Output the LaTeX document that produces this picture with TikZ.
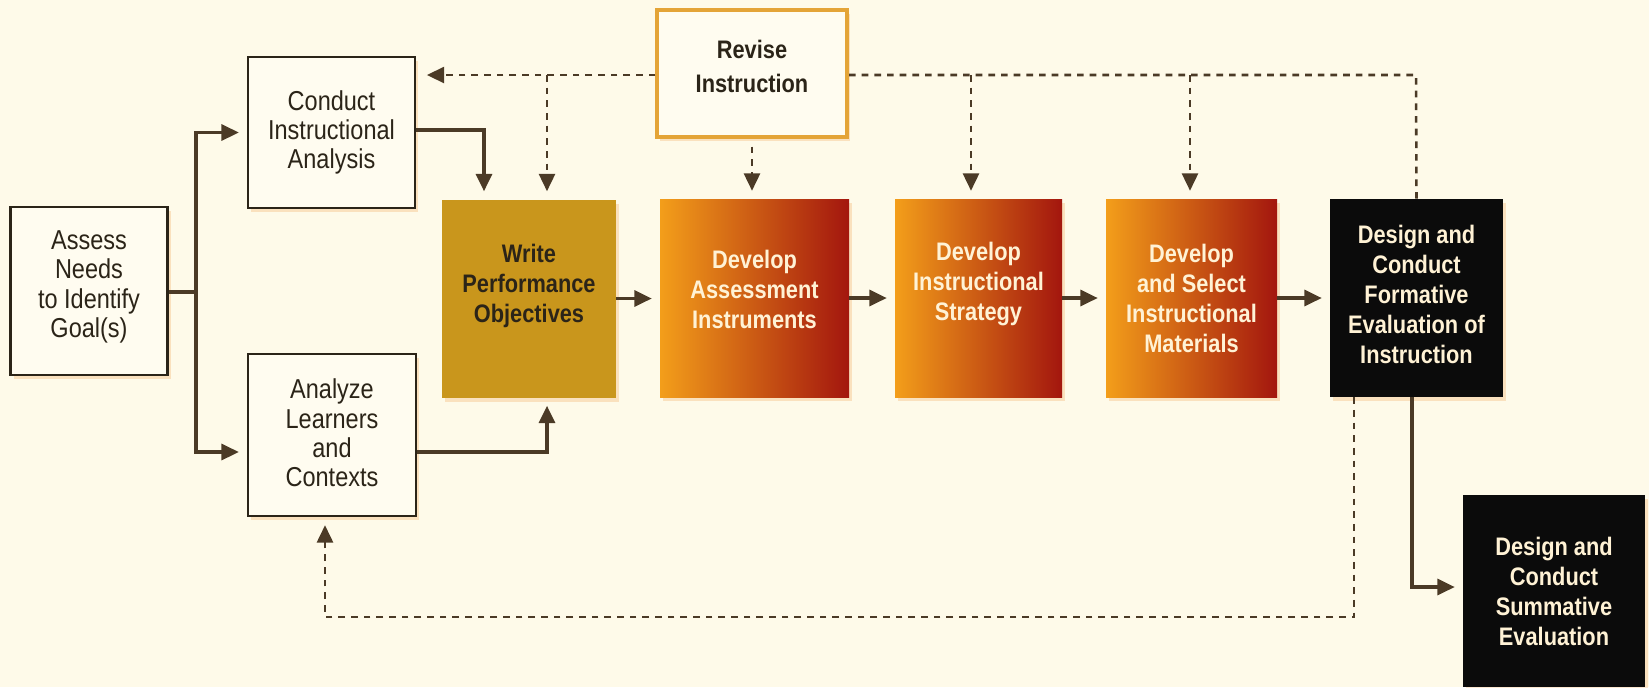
\documentclass[tikz,border=0pt]{standalone}
\usepackage{fontspec}
\setmainfont{Liberation Sans}[FakeStretch=0.86]
\usetikzlibrary{arrows.meta,calc,shadows}

\definecolor{paper}{RGB}{254,250,233}
\definecolor{boxfill}{RGB}{255,252,240}
\definecolor{boxline}{RGB}{43,36,24}
\definecolor{linkcol}{RGB}{75,58,38}
\definecolor{mustard}{RGB}{201,150,28}
\definecolor{gradleft}{RGB}{243,158,26}
\definecolor{gradmid}{RGB}{222,105,24}
\definecolor{gradright}{RGB}{163,22,14}
\definecolor{nightbox}{RGB}{11,11,11}
\definecolor{creamtext}{RGB}{255,242,213}
\definecolor{revisegold}{RGB}{228,164,55}

\tikzset{
  glow/.style={drop shadow={shadow xshift=2.5pt,shadow yshift=-3pt,fill=orange!70!brown,opacity=0.2}},
  plainbox/.style={draw=boxline,line width=1.8pt,fill=boxfill,inner sep=0pt,glow},
  solidbox/.style={inner sep=0pt,minimum height=148.5pt,glow},
  hotbox/.style={solidbox,left color=gradleft,middle color=gradmid,right color=gradright},
  darkbox/.style={solidbox,fill=nightbox},
  plaintext/.style={align=center,inner sep=0pt,text=boxline,font=\fontsize{20.5}{22}\selectfont},
  boldtext/.style={align=center,inner sep=0pt,text=creamtext,font=\bfseries\fontsize{19}{22.5}\selectfont},
  wire/.style={draw=linkcol,line width=2.4pt},
  link/.style={wire,-{Triangle[length=13pt,width=12pt]},shorten >=6pt},
  backlink/.style={link,line width=1.9pt,dash pattern=on 5pt off 4.5pt},
}

\begin{document}
\begin{tikzpicture}[x=0.75pt,y=0.75pt,yscale=-1,xscale=1]
  \fill[paper] (0,0) rectangle (1649,687);
  \useasboundingbox (0,0) rectangle (1649,687);

  %Shape: Box [assess]
  \node[plainbox,minimum width=117.75pt,minimum height=126pt] (assess) at (89,291) {};
  %Shape: Box [conduct]
  \node[plainbox,minimum width=125.25pt,minimum height=113.25pt] (conduct) at (331.5,132.5) {};
  %Shape: Box [analyze]
  \node[plainbox,minimum width=126pt,minimum height=121.5pt] (analyze) at (332,435) {};
  %Shape: Box [revise]
  \node[plainbox,draw=revisegold,line width=2.5pt,minimum width=142.5pt,minimum height=95.25pt] (revise) at (752,73.5) {};
  %Shape: Box [write]
  \node[solidbox,fill=mustard,minimum width=130.5pt] (write) at (529,298.5) {};
  %Shape: Box [devassess]
  \node[hotbox,minimum width=141.75pt] (devassess) at (754.5,298) {};
  %Shape: Box [devstrat]
  \node[hotbox,minimum width=125.25pt] (devstrat) at (978.5,298) {};
  %Shape: Box [devselect]
  \node[hotbox,minimum width=128.25pt] (devselect) at (1191.5,298) {};
  %Shape: Box [formative]
  \node[darkbox,minimum width=129.75pt] (formative) at (1416.5,298) {};
  %Shape: Box [summative]
  \node[darkbox,minimum width=136.5pt,minimum height=144pt] (summative) at (1554,591) {};

  % Text Node
  \node[plaintext] (assesstext) at ($(assess)+(0,-4)$) {Assess\\Needs\\to Identify\\Goal(s)};
  % Text Node
  \node[plaintext] (conducttext) at (conduct) {Conduct\\Instructional\\Analysis};
  % Text Node
  \node[plaintext] (analyzetext) at ($(analyze)+(0,-2)$) {Analyze\\Learners\\and\\Contexts};
  % Text Node
  \node[plaintext,font=\bfseries\fontsize{19}{25}\selectfont] (revisetext) at ($(revise)+(0,-7)$) {Revise\\Instruction};
  % Text Node
  \node[boldtext,text=boxline] (writetext) at ($(write)+(0,-13)$) {Write\\Performance\\Objectives};
  % Text Node
  \node[boldtext] (devassesstext) at ($(devassess)+(0,-9)$) {Develop\\Assessment\\Instruments};
  % Text Node
  \node[boldtext] (devstrattext) at ($(devstrat)+(0,-14)$) {Develop\\Instructional\\Strategy};
  % Text Node
  \node[boldtext] (devselecttext) at (devselect) {Develop\\and Select\\Instructional\\Materials};
  % Text Node
  \node[boldtext] (formativetext) at ($(formative)+(0,-4)$) {Design and\\Conduct\\Formative\\Evaluation of\\Instruction};
  % Text Node
  \node[boldtext] (summativetext) at (summative) {Design and\\Conduct\\Summative\\Evaluation};

  %Straight Lines: from assess
  \coordinate (split) at (196,292);
  \coordinate (lowrow) at (196,452);
  \draw[wire] (assess.east |- split) -- (split);
  \draw[link] (split) |- (conduct.west);
  \draw[link] (split) -- (lowrow) -- (analyze.west |- lowrow);
  %Straight Lines: into write
  \coordinate (cdrop) at (484,130);
  \draw[link] (conduct.east |- cdrop) -- (cdrop) -- (cdrop |- write.north);
  \coordinate (arise) at (547,452);
  \draw[link] (analyze.east |- arise) -- (arise) -- (arise |- write.south);
  %Straight Lines: main row
  \draw[link] (write.east) -- (devassess.west |- write.east);
  \draw[link] (devassess.east) -- (devstrat.west);
  \draw[link] (devstrat.east) -- (devselect.west);
  \draw[link] (devselect.east) -- (formative.west);
  \coordinate (sdrop) at (1412,587);
  \draw[link] (formative.south -| sdrop) -- (sdrop) -- (summative.west |- sdrop);

  %Dashed Lines: revision loop
  \coordinate (topright) at (1416,75);
  \coordinate (wtap) at (547,75);
  \coordinate (stap) at (971,75);
  \coordinate (mtap) at (1190,75);
  \draw[backlink,-,shorten >=0pt] (formative.north) -- (topright) -- (revise.east |- topright);
  \draw[backlink,shorten >=8pt] (revise.west |- topright) -- (conduct.east |- topright);
  \draw[backlink] (wtap) -- (wtap |- write.north);
  \draw[backlink] (stap) -- (stap |- devstrat.north);
  \draw[backlink] (mtap) -- (mtap |- devselect.north);
  \draw[backlink,shorten <=6pt] (revise.south) -- (revise.south |- devassess.north);
  \coordinate (fbcorner) at (1354,617);
  \coordinate (fbleft) at (325,617);
  \draw[backlink] (formative.south -| fbcorner) -- (fbcorner) -- (fbleft) -- (fbleft |- analyze.south);

\end{tikzpicture}
\end{document}
